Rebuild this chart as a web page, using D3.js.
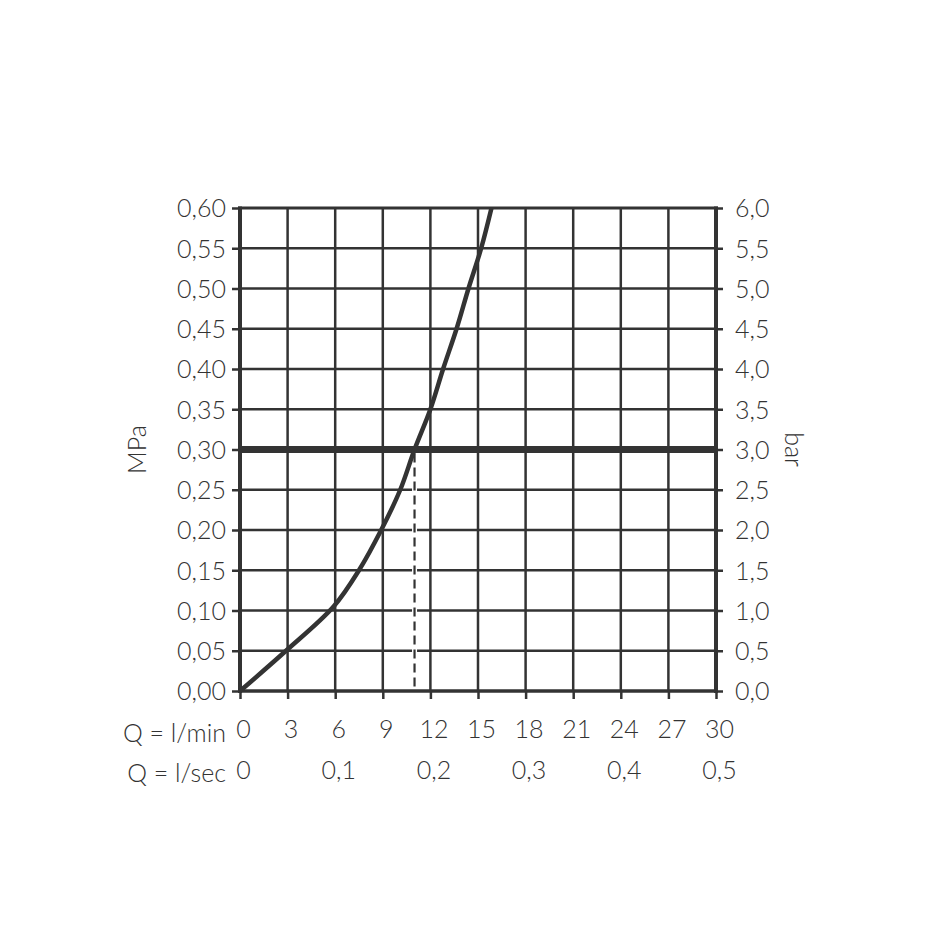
<!DOCTYPE html>
<html><head><meta charset="utf-8">
<script src="https://cdn.jsdelivr.net/npm/d3@7"></script>
<style>
html,body{margin:0;padding:0;background:#fff;}
text{font-family:Lato,"Noto Sans",sans-serif;font-weight:300;fill:#333;}
</style></head>
<body>
<svg id="c" width="952" height="952"></svg>
<script>
// Data
const flowTicksMin = [0,3,6,9,12,15,18,21,24,27,30];
const flowTicksSec = [0,0.1,0.2,0.3,0.4,0.5];
const mpaTicks = [0,0.05,0.10,0.15,0.20,0.25,0.30,0.35,0.40,0.45,0.50,0.55,0.60];
const barTicks = [0,0.5,1.0,1.5,2.0,2.5,3.0,3.5,4.0,4.5,5.0,5.5,6.0];
const curveQ   = [0, 2.9, 5.9, 7.5, 8.9, 10.1, 11.0, 12.0, 12.8, 13.65, 14.4, 15.2, 15.85];
const curveMPa = [0, 0.05, 0.105, 0.15, 0.20, 0.25, 0.30, 0.35, 0.40, 0.45, 0.50, 0.55, 0.60];
const refPressure = 0.30;
const refFlow = 11.0;

const col = "#333";
const FS = "25px";
const svg = d3.select("#c");
const x = d3.scaleLinear().domain([0,30]).range([240,716]);
const y = d3.scaleLinear().domain([0,0.60]).range([691,208]);
const yBar = d3.scaleLinear().domain([0,6]).range([691,208]);
const xSec = d3.scaleLinear().domain([0,0.5]).range([240,716]);
const fmt = (d,n) => d.toFixed(n).replace(".", ",");

const g = svg.append("g");
// grid
g.selectAll(".vg").data(flowTicksMin.slice(1,-1)).join("line")
  .attr("x1",d=>x(d)).attr("x2",d=>x(d)).attr("y1",y(0.6)).attr("y2",y(0))
  .attr("stroke",col).attr("stroke-width",2.5);
g.selectAll(".hg").data(mpaTicks.slice(1,-1)).join("line")
  .attr("x1",x(0)).attr("x2",x(30)).attr("y1",d=>y(d)).attr("y2",d=>y(d))
  .attr("stroke",col).attr("stroke-width",2.5);
// top line
g.append("line").attr("x1",x(0)-2).attr("x2",x(30)+2).attr("y1",y(0.6)).attr("y2",y(0.6))
  .attr("stroke",col).attr("stroke-width",3);
// frame axes
g.append("line").attr("x1",x(0)).attr("x2",x(0)).attr("y1",y(0.6)-1.5).attr("y2",y(0)+2)
  .attr("stroke",col).attr("stroke-width",4);
g.append("line").attr("x1",x(30)).attr("x2",x(30)).attr("y1",y(0.6)-1.5).attr("y2",y(0)+2)
  .attr("stroke",col).attr("stroke-width",4);
g.append("line").attr("x1",x(0)).attr("x2",x(30)).attr("y1",y(0)).attr("y2",y(0))
  .attr("stroke",col).attr("stroke-width",3.5);

// axes with d3
const axL = d3.axisLeft(y).tickValues(mpaTicks).tickSize(8).tickPadding(6).tickFormat(d=>fmt(d,2));
const gL = svg.append("g").attr("transform",`translate(${x(0)},0)`).call(axL);
const axR = d3.axisRight(yBar).tickValues(barTicks).tickSize(7).tickPadding(12).tickFormat(d=>fmt(d,1));
const gR = svg.append("g").attr("transform",`translate(${x(30)},0)`).call(axR);
const axB = d3.axisBottom(x).tickValues(flowTicksMin).tickSize(8).tickPadding(21).tickFormat(d=>String(d));
const gB = svg.append("g").attr("transform",`translate(0,${y(0)})`).call(axB);
const axB2 = d3.axisBottom(xSec).tickValues(flowTicksSec).tickSize(0).tickPadding(0).tickFormat((d,i)=>i===0?"0":fmt(d,1));
const gB2 = svg.append("g").attr("transform",`translate(0,${y(0)+70})`).call(axB2);
[gL,gR,gB,gB2].forEach(a=>{
  a.select(".domain").remove();
  a.selectAll(".tick line").attr("stroke",col).attr("stroke-width",2.5);
  a.selectAll(".tick text").style("font-size",FS).attr("fill","#333")
    .style("font-family",'Lato,"Noto Sans",sans-serif').style("font-weight","300");
});
gL.selectAll(".tick text").attr("dy","0.35em");
gR.selectAll(".tick text").attr("dy","0.35em");
gB.selectAll(".tick text").attr("dx","3");
gB2.selectAll(".tick text").attr("dx","3");

// axis row labels
svg.append("text").attr("x",226).attr("y",y(0)+51).attr("text-anchor","end")
  .style("font-size",FS).text("Q = l/min");
svg.append("text").attr("x",226).attr("y",y(0)+91).attr("text-anchor","end")
  .style("font-size",FS).text("Q = l/sec");
svg.append("text").attr("transform",`translate(146,${y(0.30)}) rotate(-90)`).attr("text-anchor","middle")
  .style("font-size",FS).text("MPa");
svg.append("text").attr("transform",`translate(785,${y(0.30)}) rotate(90)`).attr("text-anchor","middle")
  .style("font-size",FS).text("bar");

// reference thick horizontal line
svg.append("line").attr("x1",x(0)).attr("x2",x(30)).attr("y1",y(refPressure)).attr("y2",y(refPressure))
  .attr("stroke",col).attr("stroke-width",7);
// dashed vertical
svg.append("line").attr("x1",x(refFlow)).attr("x2",x(refFlow)).attr("y1",y(refPressure)+4).attr("y2",y(0)-2)
  .attr("stroke","#fff").attr("stroke-width",5);
svg.append("line").attr("x1",x(refFlow)).attr("x2",x(refFlow)).attr("y1",y(refPressure)+4).attr("y2",y(0)-2)
  .attr("stroke",col).attr("stroke-width",2.2).attr("stroke-dasharray","9,5");

// curve
const pts = curveQ.map((q,i)=>[q,curveMPa[i]]);
svg.append("path").datum(pts)
  .attr("d",d3.line().x(d=>x(d[0])).y(d=>y(d[1])).curve(d3.curveCatmullRom.alpha(0.5)))
  .attr("fill","none").attr("stroke",col).attr("stroke-width",4.5).attr("stroke-linecap","butt");
</script>
</body></html>
